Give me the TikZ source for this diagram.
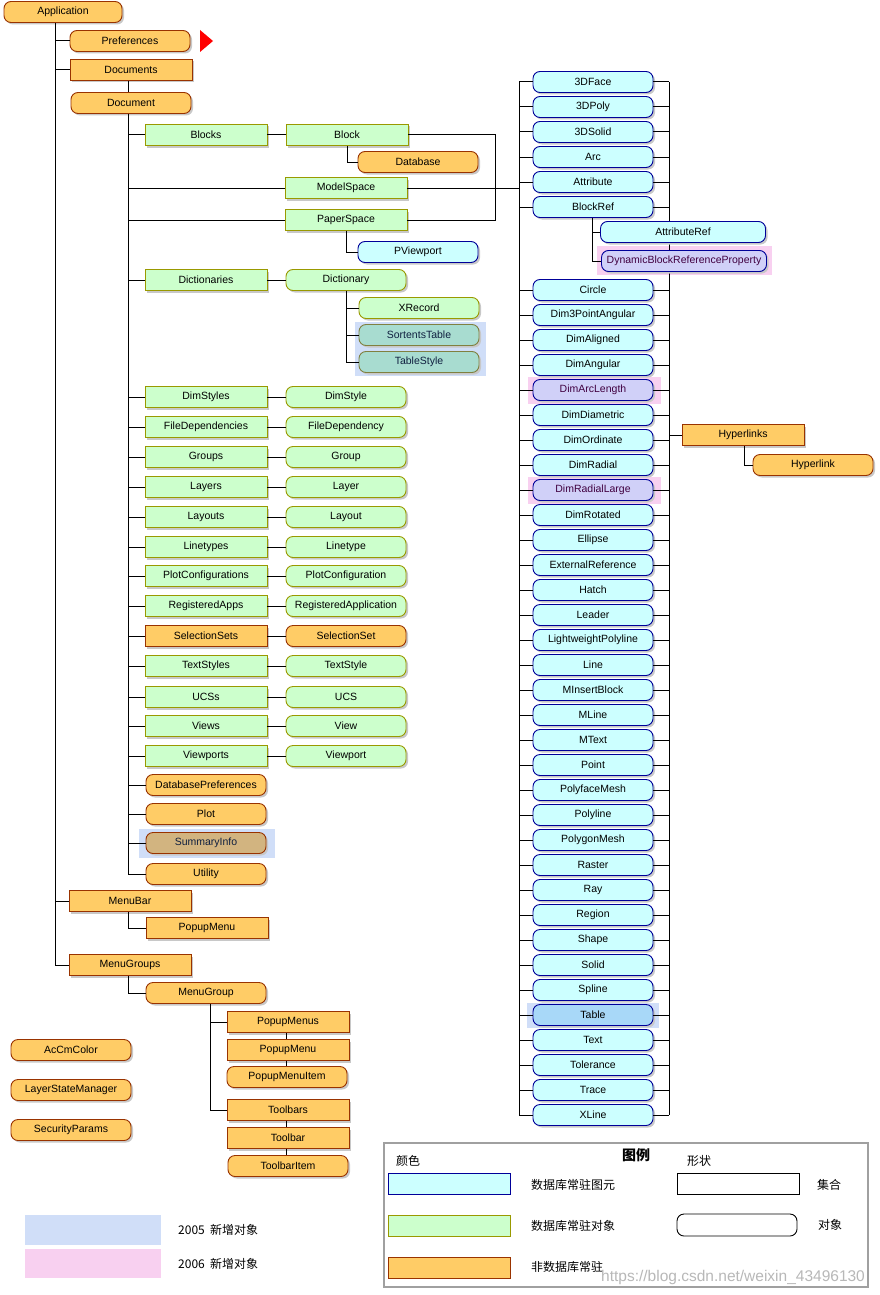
\documentclass[tikz,border=0pt]{standalone}
\usepackage{fontspec}
\setmainfont{Liberation Sans}
\newfontfamily\cjk{Noto Sans CJK SC}
\usetikzlibrary{shadows}
\definecolor{orF}{RGB}{255,204,102}
\definecolor{orD}{RGB}{153,51,0}
\definecolor{grF}{RGB}{204,255,204}
\definecolor{grD}{RGB}{153,153,0}
\definecolor{cyF}{RGB}{204,255,255}
\definecolor{cyD}{RGB}{0,0,153}
\definecolor{tlF}{RGB}{168,220,208}
\definecolor{tlD}{RGB}{128,128,64}
\definecolor{puF}{RGB}{208,208,248}
\definecolor{puT}{RGB}{64,0,64}
\definecolor{tbF}{RGB}{168,216,248}
\definecolor{taF}{RGB}{210,180,128}
\definecolor{hlB}{RGB}{208,222,248}
\definecolor{hlP}{RGB}{248,208,240}
\definecolor{shd}{RGB}{200,200,200}
\definecolor{lgG}{RGB}{160,160,160}
\definecolor{dkT}{RGB}{16,32,64}
\tikzset{
  box/.style={minimum height=21pt, inner sep=0pt, line width=0.9pt,
    font=\fontsize{10.5}{12}\selectfont,
    drop shadow={shadow xshift=2pt,shadow yshift=-2pt,fill=shd,opacity=1}},
  coll/.style={box, rectangle, minimum width=122pt},
  obj/.style={box, rectangle, rounded corners=7pt, minimum width=120pt},
  ora/.style={fill=orF, draw=orD},
  grn/.style={fill=grF, draw=grD},
  cyn/.style={fill=cyF, draw=cyD},
  tlx/.style={fill=tlF, draw=tlD, text=dkT},
  pur/.style={fill=puF, draw=cyD, text=puT},
  tbl/.style={fill=tbF, draw=cyD},
  tan/.style={fill=taF, draw=orD, text=dkT},
  conn/.style={line width=1pt, black},
  lgtext/.style={font=\cjk\fontsize{12}{14}\selectfont, inner sep=0pt},
}
\begin{document}
\begin{tikzpicture}[x=1pt,y=-1pt]
\fill[white] (0,0) rectangle (880,1295);
\useasboundingbox (0,0) rectangle (880,1295);
% guide coordinates
\coordinate (xA) at (55,0);
\coordinate (xD) at (128,0);
\coordinate (xB) at (495,0);
\coordinate (xL) at (519,0);
\coordinate (xR) at (669,0);
\coordinate (xG) at (210,0);
\coordinate (xP) at (286,0);
\coordinate (xQ) at (592,0);
\coordinate (xH) at (744,0);
% highlights
\fill[hlB] (355,322) rectangle (486,376);
\fill[hlB] (139,829) rectangle (275,858);
\fill[hlP] (597,246) rectangle (772,275);
\fill[hlP] (528,377) rectangle (661,404);
\fill[hlP] (528,477) rectangle (661,504);
\fill[hlB] (527,1003) rectangle (659,1028);
% left tree
\node[obj,ora,minimum width=118pt] (app) at (63,12) {Application};
\node[obj,ora] (pref) at (130,41) {Preferences};
\fill[red] (200,30) -- (213,41) -- (200,52) -- cycle;
\node[coll,ora] (docs) at (131,70) {Documents};
\node[obj,ora] (doc) at (131,103) {Document};
\node[coll,grn] (blocks) at (206,135) {Blocks};
\node[coll,grn] (block) at (347,135) {Block};
\node[obj,ora] (database) at (418,162) {Database};
\node[coll,grn] (ms) at (346,188) {ModelSpace};
\node[coll,grn] (ps) at (346,220) {PaperSpace};
\node[obj,cyn] (pvp) at (418,252) {PViewport};
\node[coll,grn] (dicts) at (206,280) {Dictionaries};
\node[obj,grn] (dict) at (346,280) {Dictionary};
\node[obj,grn] (xrec) at (419,308) {XRecord};
\node[obj,tlx] (sortents) at (419,335) {SortentsTable};
\node[obj,tlx] (tstyle) at (419,362) {TableStyle};
\foreach \a/\b/\y/\s in {DimStyles/DimStyle/397/grn, FileDependencies/FileDependency/427/grn,
  Groups/Group/457/grn, Layers/Layer/487/grn, Layouts/Layout/517/grn, Linetypes/Linetype/547/grn,
  PlotConfigurations/PlotConfiguration/576/grn, RegisteredApps/RegisteredApplication/606/grn,
  SelectionSets/SelectionSet/636/ora, TextStyles/TextStyle/666/grn, UCSs/UCS/697/grn,
  Views/View/726/grn, Viewports/Viewport/756/grn} {
  \node[coll,\s] (c-\a) at (206,\y) {\a};
  \node[obj,\s] (o-\b) at (346,\y) {\b};
  \draw[conn] (c-\a.east) -- (o-\b.west);
  \draw[conn] (c-\a.west) -- (c-\a.west -| xD);
}
\node[obj,ora] (dbpref) at (206,785) {DatabasePreferences};
\node[obj,ora] (plot) at (206,814) {Plot};
\node[obj,tan] (summary) at (206,843) {SummaryInfo};
\node[obj,ora] (utility) at (206,874) {Utility};
\node[coll,ora] (menubar) at (130,901) {MenuBar};
\node[coll,ora] (popup) at (207,928) {PopupMenu};
\node[coll,ora] (menugroups) at (130,965) {MenuGroups};
\node[obj,ora] (menugroup) at (206,993) {MenuGroup};
\node[coll,ora] (popupmenus) at (288,1022) {PopupMenus};
\node[coll,ora] (popupmenu2) at (288,1050) {PopupMenu};
\node[obj,ora] (popupitem) at (287,1077) {PopupMenuItem};
\node[coll,ora] (toolbars) at (288,1110) {Toolbars};
\node[coll,ora] (toolbar) at (288,1138) {Toolbar};
\node[obj,ora] (toolbaritem) at (288,1166) {ToolbarItem};
\node[obj,ora] (accm) at (71,1050) {AcCmColor};
\node[obj,ora] (lsm) at (71,1090) {LayerStateManager};
\node[obj,ora] (sec) at (71,1130) {SecurityParams};
% left connectors
\draw[conn] (app.south -| xA) -- (menugroups.west -| xA);
\foreach \n in {pref,docs,menubar,menugroups} \draw[conn] (\n.west) -- (\n.west -| xA);
\draw[conn] (docs.south -| xD) -- (doc.north -| xD);
\draw[conn] (doc.south -| xD) -- (utility.west -| xD);
\foreach \n in {blocks,ms,ps,dicts,dbpref,plot,summary,utility} \draw[conn] (\n.west) -- (\n.west -| xD);
\draw[conn] (blocks.east) -- (block.west);
\draw[conn] (dicts.east) -- (dict.west);
\draw[conn] (block.south) |- (database.west);
\draw[conn] (ps.south) |- (pvp.west);
\draw[conn] (dict.south) |- (tstyle.west);
\draw[conn] (xrec.west -| dict.south) -- (xrec.west);
\draw[conn] (sortents.west -| dict.south) -- (sortents.west);
\draw[conn] (block.east) -- (block.east -| xB) -- (ps.east -| xB) -- (ps.east);
\draw[conn] (ms.east) -- (ms.east -| xL);
\draw[conn] (menubar.south -| xD) |- (popup.west);
\draw[conn] (menugroups.south -| xD) |- (menugroup.west);
\draw[conn] (menugroup.south -| xG) |- (toolbars.west);
\draw[conn] (popupmenus.west -| xG) -- (popupmenus.west);
\draw[conn] (popupmenus.south -| xP) -- (popupmenu2.north -| xP);
\draw[conn] (popupmenu2.south -| xP) -- (popupitem.north -| xP);
\draw[conn] (toolbars.south -| xP) -- (toolbar.north -| xP);
\draw[conn] (toolbar.south -| xP) -- (toolbaritem.north -| xP);
% right column
\foreach \n/\y/\s [count=\i] in {3DFace/82/cyn, 3DPoly/107/cyn, 3DSolid/132/cyn, Arc/157/cyn,
  Attribute/182/cyn, BlockRef/207/cyn, Circle/290/cyn, Dim3PointAngular/315/cyn,
  DimAligned/340/cyn, DimAngular/365/cyn, DimArcLength/390/pur, DimDiametric/415/cyn,
  DimOrdinate/440/cyn, DimRadial/465/cyn, DimRadialLarge/490/pur, DimRotated/515/cyn,
  Ellipse/540/cyn, ExternalReference/565/cyn, Hatch/590/cyn, Leader/615/cyn,
  LightweightPolyline/640/cyn, Line/665/cyn, MInsertBlock/690/cyn, MLine/715/cyn,
  MText/740/cyn, Point/765/cyn, PolyfaceMesh/790/cyn, Polyline/815/cyn, PolygonMesh/840/cyn,
  Raster/865/cyn, Ray/890/cyn, Region/915/cyn, Shape/940/cyn, Solid/965/cyn, Spline/990/cyn,
  Table/1015/tbl, Text/1040/cyn, Tolerance/1065/cyn, Trace/1090/cyn, XLine/1115/cyn} {
  \node[obj,\s] (r\i) at (593,\y) {\n};
  \draw[conn] (r\i.west) -- (r\i.west -| xL);
  \draw[conn] (r\i.east) -- (r\i.east -| xR);
}
\draw[conn] (r1.west -| xL) -- (r40.west -| xL);
\draw[conn] (r1.east -| xR) -- (r40.east -| xR);
\node[obj,cyn,minimum width=165pt] (attref) at (683,232) {AttributeRef};
\node[obj,pur,minimum width=165pt] (dbrp) at (684,261) {DynamicBlockReferenceProperty};
\draw[conn] (r6.south -| xQ) |- (dbrp.west);
\draw[conn] (attref.west -| xQ) -- (attref.west);
\node[coll,ora] (hls) at (743,435) {Hyperlinks};
\node[obj,ora] (hl) at (813,465) {Hyperlink};
\draw[conn] (hls.west -| xR) -- (hls.west);
\draw[conn] (hls.south -| xH) |- (hl.west);
% bottom-left legend
\fill[hlB] (25,1215) rectangle (161,1245);
\fill[hlP] (25,1249) rectangle (161,1278);
\node[lgtext,anchor=west] (y2005) at (178,1230) {2005\ \ 新增对象};
\node[lgtext,anchor=west] (y2006) at (178,1264) {2006\ \ 新增对象};
% legend box
\draw[lgG,line width=2pt] (384,1143) rectangle (868,1287);
\node[lgtext,font=\cjk\bfseries\fontsize{14}{16}\selectfont] (lgtitle) at (636,1155) {图例};
\node[lgtext] (lgcolor) at (408,1161) {颜色};
\node[lgtext] (lgshape) at (699,1161) {形状};
\draw[cyD,fill=cyF,line width=0.9pt] (388,1173) rectangle (510,1194);
\draw[grD,fill=grF,line width=0.9pt] (388,1215) rectangle (510,1236);
\draw[orD,fill=orF,line width=0.9pt] (388,1257) rectangle (510,1278);
\draw[black,line width=0.9pt] (677,1173) rectangle (799,1194);
\draw[black,line width=0.9pt,rounded corners=7pt] (677,1214) rectangle (797,1236);
\node[lgtext,anchor=west] (lg1) at (531,1185) {数据库常驻图元};
\node[lgtext,anchor=west] (lg2) at (531,1226) {数据库常驻对象};
\node[lgtext,anchor=west] (lg3) at (531,1267) {非数据库常驻};
\node[lgtext,anchor=west] (lg4) at (817,1185) {集合};
\node[lgtext,anchor=west] (lg5) at (818,1225) {对象};
\node[anchor=west,inner sep=0pt,text=black!28,font=\fontsize{15.5}{17}\selectfont] (wm) at (601,1277) {https://blog.csdn.net/weixin\_43496130};
\end{tikzpicture}
\end{document}
